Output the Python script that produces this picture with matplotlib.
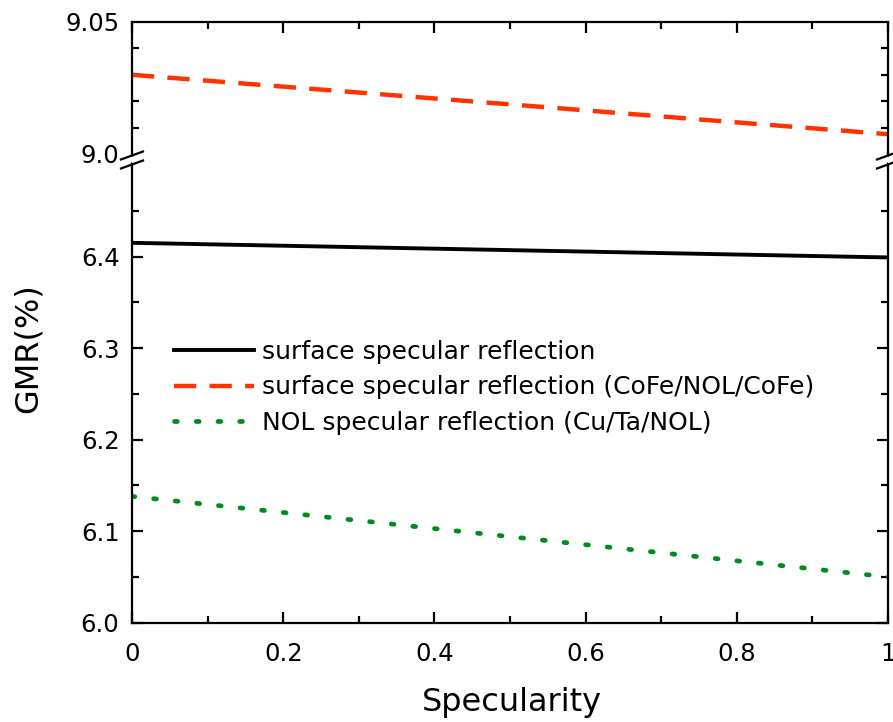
import matplotlib
matplotlib.use("Agg")
import matplotlib.pyplot as plt
from matplotlib.lines import Line2D
from matplotlib.ticker import FixedLocator

plt.rcParams['font.family'] = ['DejaVu Sans']

# data
specularity = [0.0, 0.25, 0.5, 0.75, 1.0]
gmr_surface = [6.415, 6.411, 6.407, 6.403, 6.399]
gmr_cofe_nol = [9.030, 9.0244, 9.0188, 9.0131, 9.0075]
gmr_nol = [6.138, 6.116, 6.094, 6.072, 6.050]

labels = ["surface specular reflection",
          "surface specular reflection (CoFe/NOL/CoFe)",
          "NOL specular reflection (Cu/Ta/NOL)"]

x_ticks = [0, 0.2, 0.4, 0.6, 0.8, 1.0]
x_ticklabels = ['0', '0.2', '0.4', '0.6', '0.8', '1']
x_minor = [0.1, 0.3, 0.5, 0.7, 0.9]
y_ticks_low = [6.0, 6.1, 6.2, 6.3, 6.4]
y_minor_low = [6.05, 6.15, 6.25, 6.35, 6.45]
y_ticks_high = [9.0, 9.05]
y_minor_high = [9.01, 9.02, 9.03, 9.04]

W, H = 893, 722
fig = plt.figure(figsize=(W / 100, H / 100), dpi=100)

def fx(px):
    return px / W

def fy(py):
    return 1 - py / H

left, right = 132, 888
ax_top = fig.add_axes([fx(left), fy(154), fx(right - left), fy(22) - fy(154)])
ax_bot = fig.add_axes([fx(left), fy(622.7), fx(right - left), fy(165) - fy(622.7)])

red = '#ff3300'
green = '#008c1e'

ax_top.plot(specularity, gmr_cofe_nol, color=red, lw=3.2, dashes=(5, 3))
l1, = ax_bot.plot(specularity, gmr_surface, color='black', lw=2.8)
l3, = ax_bot.plot(specularity, gmr_nol, color=green, lw=3.4, linestyle=(0, (0.6, 4.0)),
                  dash_capstyle='round')
l2 = Line2D([], [], color=red, lw=3.2, dashes=(5, 3))

for ax in (ax_top, ax_bot):
    ax.set_xlim(0, 1)
    for s in ax.spines.values():
        s.set_linewidth(1.6)
    ax.tick_params(which='both', direction='in', width=1.6, labelsize=17.5,
                   right=True, top=True)
    ax.tick_params(which='major', length=8)
    ax.tick_params(which='minor', length=5)
    ax.tick_params(axis='y', pad=9)
    ax.xaxis.set_major_locator(FixedLocator(x_ticks))
    ax.xaxis.set_minor_locator(FixedLocator(x_minor))

ax_top.set_ylim(9.0, 9.05)
ax_top.yaxis.set_major_locator(FixedLocator(y_ticks_high))
ax_top.yaxis.set_minor_locator(FixedLocator(y_minor_high))
ax_top.set_yticklabels(['9.0', '9.05'])
ax_top.spines['bottom'].set_visible(False)
ax_top.tick_params(which='both', bottom=False, labelbottom=False)
ax_top.tick_params(axis='y', which='major', length=0, pad=9)

ax_bot.set_ylim(6.0, 6.5)
ax_bot.yaxis.set_major_locator(FixedLocator(y_ticks_low))
ax_bot.yaxis.set_minor_locator(FixedLocator(y_minor_low))
ax_bot.set_yticklabels(['6.0', '6.1', '6.2', '6.3', '6.4'])
ax_bot.set_xticklabels(x_ticklabels)
ax_bot.spines['top'].set_visible(False)
ax_bot.tick_params(which='both', top=False)
ax_bot.tick_params(axis='x', pad=14)

# axis line across the gap and break marks
for px in (left, right):
    fig.add_artist(Line2D([fx(px), fx(px)], [fy(154), fy(165)], color='black', lw=1.6))
    fig.add_artist(Line2D([fx(px - 4), fx(px + 4)], [fy(157), fy(162)],
                          color='white', lw=4, solid_capstyle='butt'))
    for y0 in (155.5, 164.5):
        fig.add_artist(Line2D([fx(px - 11), fx(px + 11)], [fy(y0 + 4), fy(y0 - 4)],
                              color='black', lw=1.6))

fig.text(fx(28), fy(348), 'GMR(%)', rotation=90, ha='center', va='center', fontsize=23)
fig.text(fx(512), fy(702), 'Specularity', ha='center', va='center', fontsize=23)

ax_bot.legend([l1, l2, l3], labels, loc='upper left', frameon=False,
              bbox_to_anchor=(fx(174), fy(340)), bbox_transform=fig.transFigure,
              fontsize=18, handlelength=3.2, handletextpad=0.3, labelspacing=0.46,
              borderaxespad=0, borderpad=0)

fig.savefig('out.png', dpi=100)
